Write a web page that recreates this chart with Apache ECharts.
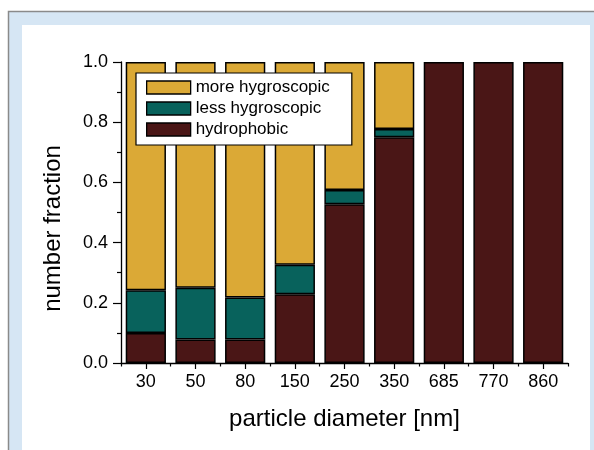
<!DOCTYPE html>
<html>
<head>
<meta charset="utf-8">
<script src="https://cdn.jsdelivr.net/npm/echarts@6/dist/echarts.min.js"></script>
<style>
  html, body { margin: 0; padding: 0; background: #fff; }
  #chart { width: 594px; height: 450px; }
</style>
</head>
<body>
<div id="chart"></div>
<script>
// particle size classes
const diameters = ['30', '50', '80', '150', '250', '350', '685', '770', '860']
// number fractions, stacked bottom -> top
const hydrophobic = [0.100, 0.078, 0.078, 0.228, 0.527, 0.750, 1.000, 1.000, 1.000]
const lessHygro = [0.142, 0.172, 0.140, 0.098, 0.048, 0.027, 0, 0, 0]
const moreHygro = [0.758, 0.750, 0.782, 0.674, 0.425, 0.223, 0, 0, 0]
const yTicks = [0, 0.2, 0.4, 0.6, 0.8, 1.0]

{
    let view = document.getElementById('chart')
    let myChart = echarts.init(view, null, { renderer: 'canvas' })

    let font = 'Liberation Sans, Arial, Helvetica, sans-serif'
    let bar = (name, data, color) => ({
        name: name,
        type: 'bar',
        stack: 'total',
        // empty segments are left out so they draw no border
        data: data.map(v => v === 0 ? null : v),
        barCategoryGap: '19%',
        itemStyle: { color: color, borderColor: '#000', borderWidth: 1.5 },
        emphasis: { disabled: true }
    })

    let option = {
        animation: false,
        textStyle: { fontFamily: font },
        graphic: [
            {
                type: 'rect', z: -10, silent: true,
                shape: { x: 8.5, y: 11.5, width: 700, height: 600 },
                style: { fill: '#d6e6f4', stroke: '#8a8a8a', lineWidth: 1.5 }
            },
            {
                type: 'rect', z: -9, silent: true,
                shape: { x: 22, y: 25, width: 568, height: 500 },
                style: { fill: '#ffffff' }
            }
        ],
        grid: { left: 121, right: 26, top: 62, bottom: 87 },
        legend: {
            orient: 'vertical',
            left: 136, top: 73,
            data: ['more hygroscopic', 'less hygroscopic', 'hydrophobic'],
            icon: 'rect',
            itemWidth: 44, itemHeight: 13, itemGap: 4,
            padding: [6, 22, 7, 10],
            backgroundColor: '#fff',
            borderColor: '#000', borderWidth: 1.2,
            borderRadius: 0,
            selectedMode: false,
            textStyle: { fontSize: 17, color: '#000', lineHeight: 16, fontFamily: font },
            itemStyle: { borderColor: '#000', borderWidth: 1.3 }
        },
        xAxis: [
            {
                type: 'category',
                data: diameters,
                name: 'particle diameter [nm]',
                nameLocation: 'middle',
                nameGap: 44,
                nameTextStyle: { fontSize: 24, color: '#000' },
                axisLine: { lineStyle: { color: '#000', width: 1.3 } },
                axisTick: { show: true, alignWithLabel: true, inside: false, length: 6, lineStyle: { color: '#000', width: 1.2 } },
                axisLabel: { fontSize: 18, color: '#000', margin: 10 },
                splitLine: { show: false }
            },
            {
                // second axis only for the short ticks between categories
                type: 'category',
                data: diameters,
                position: 'bottom',
                axisLine: { show: false },
                axisTick: { show: true, length: 3.5, lineStyle: { color: '#000', width: 1.2 } },
                axisLabel: { show: false },
                splitLine: { show: false }
            }
        ],
        yAxis: {
            type: 'value',
            min: 0, max: 1, interval: 0.2,
            name: 'number fraction',
            nameLocation: 'middle',
            nameGap: 56,
            nameTextStyle: { fontSize: 24, color: '#000', padding: [0, 32, 0, 0] },
            axisLine: { show: true, lineStyle: { color: '#000', width: 1.3 } },
            axisTick: { show: true, length: 8, lineStyle: { color: '#000', width: 1.2 } },
            minorTick: { show: true, splitNumber: 2, length: 4, lineStyle: { color: '#000', width: 1.2 } },
            axisLabel: {
                fontSize: 18, color: '#000', margin: 13,
                formatter: v => yTicks.some(t => Math.abs(t - v) < 1e-9) ? v.toFixed(1) : ''
            },
            splitLine: { show: false }
        },
        series: [
            bar('hydrophobic', hydrophobic, '#4a1616'),
            bar('less hygroscopic', lessHygro, '#08625c'),
            bar('more hygroscopic', moreHygro, '#dba936')
        ]
    }
    myChart.setOption(option)
}
</script>
</body>
</html>
